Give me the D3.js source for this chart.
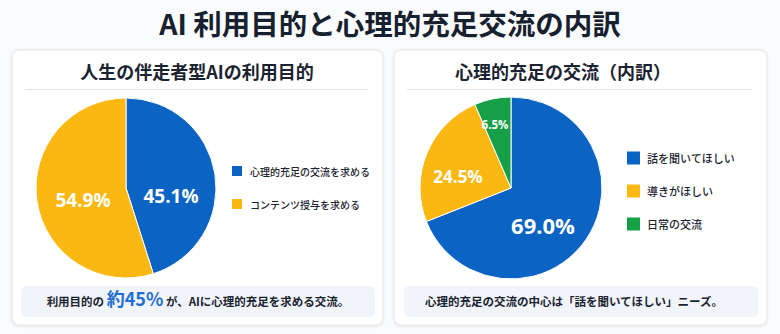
<!DOCTYPE html>
<html><head><meta charset="utf-8">
<script src="https://cdn.jsdelivr.net/npm/d3@7"></script>
<style>
body{margin:0;background:#fff;}
svg{display:block;font-family:"Noto Sans CJK JP","Noto Sans",sans-serif;}
</style></head><body>
<svg id="c" width="780" height="334"></svg>
<script>
const mainTitle = "AI 利用目的と心理的充足交流の内訳";
const leftTitle = "人生の伴走者型AIの利用目的";
const leftCategories = ["心理的充足の交流を求める", "コンテンツ授与を求める"];
const leftValues = [45.1, 54.9];
const rightTitle = "心理的充足の交流（内訳）";
const rightCategories = ["話を聞いてほしい", "導きがほしい", "日常の交流"];
const rightValues = [69.0, 24.5, 6.5];
const colors = ["#0b63c4", "#fbb812", "#15a048"];

const svg = d3.select("#c");
const defs = svg.append("defs");
const f = defs.append("filter").attr("id","sh").attr("x","-5%").attr("y","-5%").attr("width","110%").attr("height","115%");
f.append("feDropShadow").attr("dx",0).attr("dy",1).attr("stdDeviation",1.5).attr("flood-color","#000").attr("flood-opacity",0.10);

svg.append("rect").attr("width",780).attr("height",334).attr("fill","#fafbfc");

svg.append("text").attr("x",390).attr("y",35).attr("text-anchor","middle")
  .attr("font-size",28.5).attr("font-weight",700).attr("fill","#17202e").text(mainTitle);

function panel(x0, w, title, titleX, cats, vals, cx, cy, r, labelCfg, legendX, legendYs, sq, legFs, footer){
  const g = svg.append("g");
  g.append("rect").attr("x",x0).attr("y",50).attr("width",w).attr("height",275).attr("rx",7)
    .attr("fill","#fff").attr("stroke","#e3e6ea").attr("filter","url(#sh)");
  g.append("text").attr("x",titleX).attr("y",79).attr("text-anchor","middle")
    .attr("font-size",18).attr("font-weight",700).attr("fill","#1b2330").text(title);
  g.append("line").attr("x1",x0+13).attr("x2",x0+w-15).attr("y1",89.5).attr("y2",89.5)
    .attr("stroke","#e1e4e8").attr("stroke-width",1);
  const pie = d3.pie().sort(null).value(d=>d)(vals);
  const arc = d3.arc().innerRadius(0).outerRadius(r);
  const pg = g.append("g").attr("transform",`translate(${cx},${cy})`);
  pg.selectAll("path").data(pie).join("path").attr("d",arc)
    .attr("fill",(d,i)=>colors[i]).attr("stroke","#fff").attr("stroke-width",1);
  pg.selectAll("text").data(pie).join("text")
    .attr("x",(d,i)=>labelCfg[i].dx).attr("y",(d,i)=>labelCfg[i].dy)
    .attr("text-anchor","middle").attr("dominant-baseline","central")
    .attr("font-family","'Open Sans','Noto Sans',sans-serif")
    .attr("font-size",(d,i)=>labelCfg[i].fs).attr("font-weight",700).attr("fill","#fff")
    .text(d=>d.data.toFixed(1)+"%");
  const lg = g.append("g");
  cats.forEach((c,i)=>{
    lg.append("rect").attr("x",legendX).attr("y",legendYs[i]-sq/2).attr("width",sq).attr("height",sq).attr("fill",colors[i]);
    lg.append("text").attr("x",legendX+sq+(sq>11?7:8)).attr("y",legendYs[i]).attr("dominant-baseline","central")
      .attr("font-size",legFs).attr("font-weight",500).attr("fill","#1b2330").text(c);
  });
  g.append("rect").attr("x",footer.x).attr("y",286).attr("width",footer.w).attr("height",31).attr("rx",5).attr("fill","#f1f4f9");
  return g;
}

const lp = panel(12, 371, leftTitle, 197, leftCategories, leftValues, 126, 188, 90,
  [{dx:45,dy:8,fs:19},{dx:-43,dy:12,fs:19}], 232, [171,204], 10, 10, {x:21,w:354});
const lt = lp.append("text").attr("x",198).attr("y",306).attr("text-anchor","middle")
  .attr("font-size",11.5).attr("font-weight",700).attr("fill","#1b2330");
lt.append("tspan").text("利用目的の ");
lt.append("tspan").attr("fill","#1f6fd0").attr("font-size",18).text("約45%");
lt.append("tspan").text(" が、AIに心理的充足を求める交流。");

const rp = panel(394, 373, rightTitle, 563, rightCategories, rightValues, 511, 188, 91,
  [{dx:32,dy:37,fs:22},{dx:-53,dy:-12,fs:17},{dx:-16,dy:-64,fs:11.5}], 627, [158,191,224], 13, 11, {x:404,w:354});
rp.append("text").attr("x",574).attr("y",306).attr("text-anchor","middle")
  .attr("font-size",11.5).attr("font-weight",700).attr("fill","#1b2330")
  .text("心理的充足の交流の中心は「話を聞いてほしい」ニーズ。");
</script></body></html>
